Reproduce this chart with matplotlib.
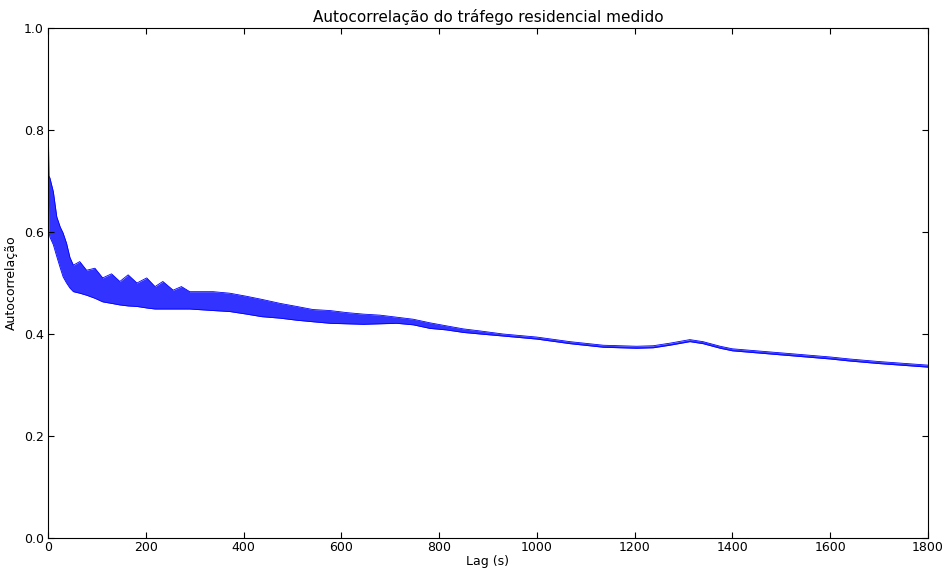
import matplotlib
matplotlib.use("Agg")
import matplotlib.pyplot as plt
import numpy as np

# envelope of the oscillating autocorrelation
lags = [0, 1, 2, 4, 11, 18, 25, 31, 38, 45, 52, 65, 79, 96, 112, 130, 147, 164,
        182, 202, 219, 235, 256, 273, 290, 338, 372, 406, 437, 475, 509, 542,
        577, 611, 645, 679, 713, 747, 781, 815, 850, 884,
        931, 1000, 1068, 1136, 1204, 1238, 1272, 1313, 1340, 1375, 1400, 1500,
        1600, 1640, 1700, 1800]
upper = [1.0, 0.78, 0.71, 0.706, 0.679, 0.63, 0.61, 0.598, 0.578, 0.55, 0.535,
         0.542, 0.525, 0.529, 0.51, 0.518, 0.503, 0.516, 0.50, 0.51, 0.493,
         0.503, 0.486, 0.493, 0.483, 0.483, 0.480, 0.474, 0.468, 0.46, 0.454,
         0.448, 0.446, 0.442, 0.439, 0.437, 0.433, 0.429, 0.422, 0.416, 0.41,
         0.406,
         0.400, 0.394, 0.385, 0.378, 0.376, 0.377, 0.382, 0.389, 0.385, 0.376,
         0.371, 0.363, 0.355, 0.351, 0.346, 0.339]
lower = [1.0, 0.66, 0.60, 0.59, 0.575, 0.552, 0.53, 0.512, 0.50, 0.49, 0.483,
         0.48, 0.476, 0.47, 0.463, 0.46, 0.457, 0.455, 0.454, 0.451, 0.449,
         0.449, 0.449, 0.449, 0.449, 0.446, 0.444, 0.439, 0.434, 0.431, 0.427,
         0.424, 0.421, 0.420, 0.419, 0.42, 0.421, 0.418, 0.411, 0.408, 0.403,
         0.40,
         0.396, 0.390, 0.381, 0.374, 0.372, 0.373, 0.378, 0.385, 0.381, 0.372,
         0.367, 0.359, 0.351, 0.347, 0.342, 0.335]

xticks = [0, 200, 400, 600, 800, 1000, 1200, 1400, 1600, 1800]
yticks = [0.0, 0.2, 0.4, 0.6, 0.8, 1.0]

fig = plt.figure(figsize=(9.46, 5.68), dpi=100)
ax = fig.add_axes([0.0507, 0.0528, 0.9302, 0.8979])

ax.fill_between(lags, lower, upper, color="blue", alpha=0.8, lw=0)
ax.plot(lags, upper, color="blue", lw=0.6)
ax.plot(lags, lower, color="blue", lw=0.6)

ax.set_xlim(0, 1800)
ax.set_ylim(0, 1.0)
ax.set_xticks(xticks)
ax.set_yticks(yticks)
ax.set_yticklabels(["%.1f" % v for v in yticks])
ax.tick_params(direction="in", top=True, right=True, length=4, labelsize=9)
ax.tick_params(axis="x", pad=2)
ax.tick_params(axis="y", pad=3)

ax.set_title("Autocorrelação do tráfego residencial medido", fontsize=11, pad=4)
ax.set_xlabel("Lag (s)", fontsize=9, labelpad=1)
ax.set_ylabel("Autocorrelação", fontsize=9, labelpad=4)

fig.savefig("out.png", dpi=100)
